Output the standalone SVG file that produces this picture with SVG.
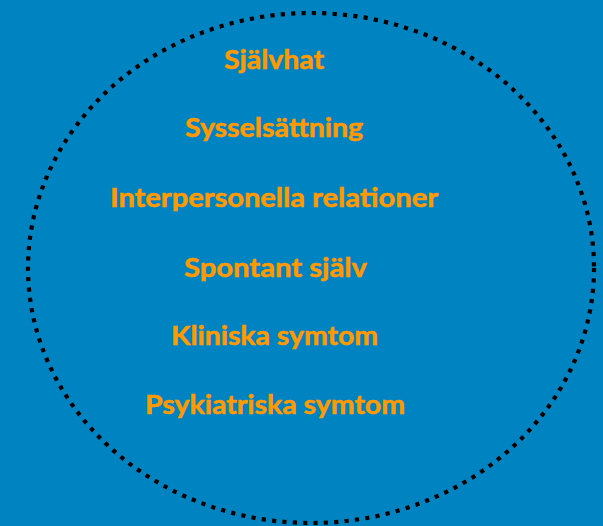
<svg xmlns="http://www.w3.org/2000/svg" width="603" height="526" viewBox="0 0 603 526">
<style>
.bg{fill:#0084C1}
.ring{fill:none;stroke:#000;stroke-width:4.2;stroke-dasharray:4.2 6.2}
.lbl{font-family:Lato,"Open Sans","Liberation Sans",sans-serif;font-weight:bold;font-size:27px;fill:#FF9900;stroke:#FF9900;stroke-width:0.5}
</style>
<rect class="bg" x="0" y="0" width="603" height="526"/>
<g id="circle">
<ellipse class="ring" cx="311" cy="268" rx="283" ry="255"/>
</g>
<g id="labels">
<g id="n1"><text class="lbl" x="224" y="69" textLength="100" lengthAdjust="spacingAndGlyphs">Självhat</text></g>
<g id="n2"><text class="lbl" x="185" y="137" textLength="178" lengthAdjust="spacingAndGlyphs">Sysselsättning</text></g>
<g id="n3"><text class="lbl" x="110" y="207" textLength="328" lengthAdjust="spacingAndGlyphs">Interpersonella relationer</text></g>
<g id="n4"><text class="lbl" x="184" y="277" textLength="183" lengthAdjust="spacingAndGlyphs">Spontant själv</text></g>
<g id="n5"><text class="lbl" x="171" y="345" textLength="207" lengthAdjust="spacingAndGlyphs">Kliniska symtom</text></g>
<g id="n6"><text class="lbl" x="145" y="414" textLength="260" lengthAdjust="spacingAndGlyphs">Psykiatriska symtom</text></g>
</g>
</svg>
